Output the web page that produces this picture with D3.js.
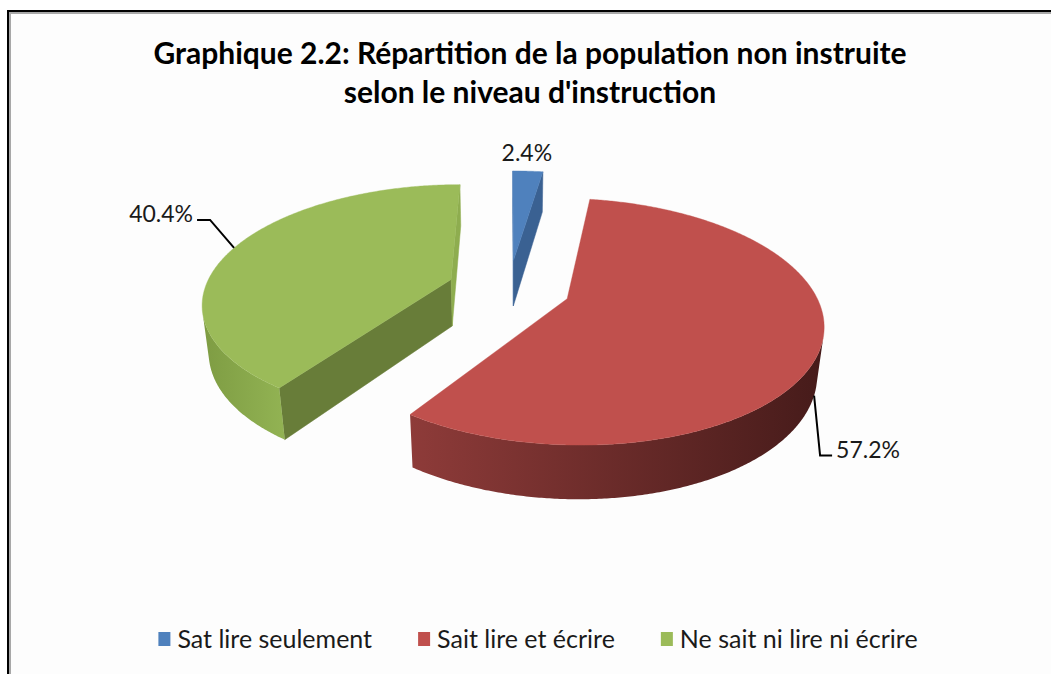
<!DOCTYPE html>
<html><head><meta charset="utf-8">
<script src="https://cdn.jsdelivr.net/npm/d3@7"></script>
<style>html,body{margin:0;padding:0;background:#fff;} svg{display:block}</style>
</head><body>
<svg id="chart" width="1051" height="674"></svg>
<script>
// ---- data ----
const categories = ["Sat lire seulement", "Sait lire et écrire", "Ne sait ni lire ni écrire"];
const values = [2.4, 57.2, 40.4];
const valueLabels = ["2.4%", "57.2%", "40.4%"];
const titleLines = ["Graphique 2.2: Répartition de la population non instruite", "selon le niveau d'instruction"];

// ---- styles ----
const topColors = ["#4F81BD", "#C0504D", "#9BBB59"];
const wallColors = [["#3E6699", "#345A8A"], ["#8E3B39", "#461B1A"], ["#7E9C43", "#92B353"]];
const startFaceColors = ["#4A78B0", "#8E3B39", "#687D39"]; // face at startAngle
const endFaceColors = ["#3A6192", "#7A302E", "#8EAD4F"];   // face at endAngle

const W = 1051, H = 674;
const svg = d3.select("#chart");
const defs = svg.append("defs");

// frame
svg.append("rect").attr("width", W).attr("height", H).attr("fill", "#fff");
svg.append("rect").attr("x", 9).attr("y", 12).attr("width", W).attr("height", H).attr("fill", "#fdfdfd");
svg.append("rect").attr("x", 7).attr("y", 10).attr("width", W).attr("height", 2).attr("fill", "#000");
svg.append("rect").attr("x", 7).attr("y", 10).attr("width", 2).attr("height", H).attr("fill", "#000");
svg.append("rect").attr("x", 9).attr("y", 12).attr("width", W).attr("height", 2).attr("fill", "#a8a8a8");
svg.append("rect").attr("x", 9).attr("y", 12).attr("width", 2).attr("height", H).attr("fill", "#a8a8a8");

// title
const fontFam = "Lato, 'Open Sans', sans-serif";
svg.append("g").selectAll("text").data(titleLines).join("text")
  .attr("x", 530).attr("y", (d, i) => 64 + i * 39)
  .attr("text-anchor", "middle")
  .attr("font-family", fontFam).attr("font-weight", "bold").attr("font-size", 30)
  .attr("fill", "#000").text(d => d);

// ---- 3D pie projection ----
const cam = {cx: 509, cy: 288, halfW: 246, D: 4.83, phi: Math.asin(0.468)};
const K = cam.halfW * cam.D;
const cphi = Math.cos(cam.phi), sphi = Math.sin(cam.phi);
function proj(X, Z, Y) {
  const d = cam.D + Z * cphi - Y * sphi;
  return [cam.cx + K * X / d, cam.cy - K * (Y * cphi + Z * sphi) / d];
}
const camPos = {X: 0, Y: cam.D * sphi, Z: -cam.D * cphi};
const explode = 0.25, thick = 0.22;

const arcs = d3.pie().sort(null).value(d => d)(values);
const pieG = svg.append("g");
const line = d3.line();

arcs.forEach((a, i) => {
  const a0 = a.startAngle, a1 = a.endAngle, m = (a0 + a1) / 2;
  const O = [explode * Math.sin(m), explode * Math.cos(m)];
  const rim = (ang, Y) => proj(O[0] + Math.sin(ang), O[1] + Math.cos(ang), Y);
  const apexT = proj(O[0], O[1], 0), apexB = proj(O[0], O[1], -thick);
  a.O = O; a.rim = rim; a.mid = m;
  const g = pieG.append("g");

  // radial faces
  const faces = [
    {ang: a0, n: [-Math.cos(a0), Math.sin(a0)], col: startFaceColors[i]},
    {ang: a1, n: [Math.cos(a1), -Math.sin(a1)], col: endFaceColors[i]}
  ];
  faces.forEach(f => {
    const vis = (camPos.X - O[0]) * f.n[0] + (camPos.Z - O[1]) * f.n[1];
    if (vis > 0) {
      g.append("path").attr("d", line([apexT, rim(f.ang, 0), rim(f.ang, -thick), apexB]) + "Z")
        .attr("fill", f.col).attr("stroke", f.col).attr("stroke-width", 0.5);
    }
  });

  // outer wall (visible range only)
  const steps = Math.max(4, Math.ceil((a1 - a0) / (Math.PI / 360)));
  const visAngles = [];
  for (let k = 0; k <= steps; k++) {
    const ang = a0 + (a1 - a0) * k / steps;
    const P = [O[0] + Math.sin(ang), O[1] + Math.cos(ang)];
    const vis = (camPos.X - P[0]) * Math.sin(ang) + (camPos.Z - P[1]) * Math.cos(ang);
    if (vis > 0) visAngles.push(ang);
  }
  if (visAngles.length > 1) {
    const topPts = visAngles.map(t => rim(t, 0));
    const botPts = visAngles.map(t => rim(t, -thick)).reverse();
    const pts = topPts.concat(botPts);
    const xs = pts.map(p => p[0]);
    const gid = "wall" + i;
    const grad = defs.append("linearGradient").attr("id", gid)
      .attr("gradientUnits", "userSpaceOnUse")
      .attr("x1", d3.min(xs)).attr("x2", d3.max(xs)).attr("y1", 0).attr("y2", 0);
    grad.append("stop").attr("offset", 0).attr("stop-color", wallColors[i][0]);
    grad.append("stop").attr("offset", 1).attr("stop-color", wallColors[i][1]);
    g.append("path").attr("d", line(pts) + "Z").attr("fill", `url(#${gid})`);
  }

  // top face
  const topArc = [];
  for (let k = 0; k <= steps; k++) topArc.push(rim(a0 + (a1 - a0) * k / steps, 0));
  g.append("path").attr("d", line([apexT].concat(topArc)) + "Z")
    .attr("fill", topColors[i]).attr("stroke", topColors[i]).attr("stroke-width", 0.4);
});

// ---- data labels ----
const labelFont = 23;
const labG = svg.append("g").attr("font-family", fontFam).attr("font-size", labelFont).attr("fill", "#1a1a1a");
arcs.forEach((a, i) => {
  if (i === 0) {
    const p = a.rim(a.mid, 0);
    labG.append("text").attr("x", p[0] - 1).attr("y", p[1] - 10).attr("text-anchor", "middle").text(valueLabels[i]);
  } else if (i === 1) {
    const p = a.rim(a.mid, -thick);
    const elbow = [p[0] + 6, p[1] + 60];
    const end = [elbow[0] + 12, elbow[1]];
    labG.append("path").attr("d", line([p, elbow, end])).attr("fill", "none").attr("stroke", "#000").attr("stroke-width", 2);
    labG.append("text").attr("x", end[0] + 4).attr("y", elbow[1] + 2).text(valueLabels[i]);
  } else {
    const p = a.rim(a.mid, 0);
    const elbow = [p[0] - 24, p[1] - 28];
    const end = [elbow[0] - 13, elbow[1]];
    labG.append("path").attr("d", line([p, elbow, end])).attr("fill", "none").attr("stroke", "#000").attr("stroke-width", 2);
    labG.append("text").attr("x", end[0] - 4).attr("y", elbow[1] + 2).attr("text-anchor", "end").text(valueLabels[i]);
  }
});

// ---- legend ----
const legG = svg.append("g").attr("font-family", fontFam).attr("font-size", 25).attr("fill", "#1a1a1a");
const items = legG.selectAll("g").data(categories).join("g");
items.append("rect").attr("width", 12).attr("height", 14).attr("y", 632).attr("fill", (d, i) => topColors[i]);
items.append("text").attr("x", 19).attr("y", 648).text(d => d);
let xcur = 0; const gap = 46; const widths = [];
items.each(function () { widths.push(this.getBBox().width); });
const total = d3.sum(widths) + gap * (widths.length - 1);
xcur = 538 - total / 2;
items.attr("transform", (d, i) => { const x = xcur; xcur += widths[i] + gap; return `translate(${x},0)`; });
</script>
</body></html>
